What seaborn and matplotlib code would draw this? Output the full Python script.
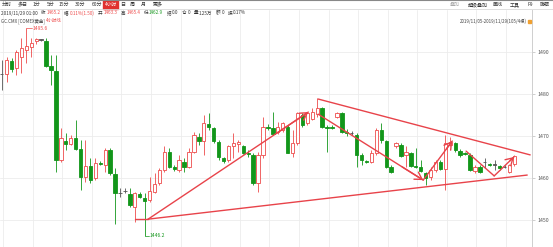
import numpy as np
import pandas as pd
import matplotlib
matplotlib.use("Agg")
import matplotlib.pyplot as plt
import seaborn as sns

# ---------------- data (4-hour candles, GC.CMX, 2019/11/05 - 2019/11/29) ----------------
opens = [1484.7, 1484.7, 1487.9, 1486.1, 1488.9, 1490.5, 1491.3, 1492.5, 1493.0, 1492.5,
         1486.7, 1485.5, 1464.3, 1468.8, 1468.0, 1469.5, 1466.9, 1460.3, 1462.9, 1459.9,
         1463.6, 1463.1, 1466.7, 1461.0, 1456.5, 1456.9, 1456.2, 1453.2, 1456.2, 1455.3,
         1454.8, 1456.7, 1458.7, 1461.9, 1466.3, 1462.5, 1461.9, 1463.9, 1462.5, 1466.3,
         1469.8, 1468.9, 1472.8, 1471.8, 1468.6, 1464.7, 1464.3, 1467.6, 1468.1, 1467.6,
         1466.0, 1465.5, 1458.7, 1465.5, 1472.2, 1471.8, 1471.0, 1471.4, 1472.2, 1466.0,
         1468.3, 1475.0, 1473.0, 1474.0, 1475.2, 1476.6, 1472.2, 1472.2, 1474.6, 1475.4,
         1471.0, 1470.7, 1470.2, 1465.5, 1464.0, 1463.9, 1465.9, 1471.4, 1468.8, 1462.5,
         1467.6, 1467.9, 1465.5, 1465.9, 1462.9, 1462.7, 1461.1, 1460.2, 1461.9, 1463.9,
         1462.1, 1467.9, 1468.3, 1466.5, 1466.0, 1465.5, 1461.7, 1462.7, 1463.9, 1463.3,
         1463.3, 1462.9, 1462.7, 1461.5, 1463.3]
highs = [1488.1, 1488.7, 1488.5, 1490.5, 1493.3, 1495.6, 1493.3, 1493.4, 1493.2, 1493.3,
         1489.3, 1489.3, 1471.8, 1470.6, 1470.3, 1473.8, 1469.0, 1469.0, 1464.7, 1464.7,
         1464.0, 1467.1, 1467.1, 1462.3, 1457.5, 1457.5, 1457.5, 1456.7, 1456.7, 1456.4,
         1460.3, 1461.1, 1462.3, 1467.5, 1467.1, 1463.1, 1465.5, 1464.7, 1467.1, 1471.0,
         1470.6, 1475.0, 1475.4, 1472.2, 1469.0, 1465.1, 1467.9, 1470.6, 1469.0, 1467.9,
         1466.6, 1465.9, 1466.3, 1474.6, 1472.9, 1475.8, 1473.4, 1473.4, 1472.6, 1471.4,
         1475.8, 1475.4, 1475.8, 1476.6, 1479.0, 1477.0, 1472.6, 1472.5, 1475.8, 1475.8,
         1471.6, 1471.2, 1470.6, 1465.9, 1464.4, 1466.7, 1471.8, 1473.0, 1469.0, 1463.1,
         1468.6, 1468.3, 1467.5, 1466.3, 1467.1, 1464.3, 1461.5, 1462.7, 1464.3, 1464.3,
         1470.2, 1469.8, 1468.6, 1466.9, 1466.3, 1465.9, 1463.1, 1463.1, 1464.7, 1463.6,
         1464.3, 1463.1, 1463.0, 1463.3, 1465.4]
lows = [1481.0, 1482.9, 1485.3, 1484.5, 1484.9, 1487.3, 1488.9, 1491.8, 1492.5, 1486.5,
        1482.1, 1461.5, 1463.9, 1466.7, 1467.8, 1466.7, 1457.1, 1459.1, 1458.7, 1459.5,
        1463.0, 1461.5, 1460.7, 1449.0, 1455.5, 1456.5, 1453.2, 1449.6, 1455.2, 1446.2,
        1454.4, 1456.4, 1458.3, 1461.5, 1462.3, 1461.7, 1461.5, 1461.5, 1462.3, 1465.9,
        1467.9, 1465.5, 1471.4, 1468.3, 1464.3, 1463.5, 1463.9, 1464.7, 1466.3, 1465.7,
        1465.0, 1458.3, 1456.7, 1464.7, 1471.5, 1470.2, 1470.4, 1471.0, 1465.9, 1465.1,
        1467.9, 1472.2, 1472.6, 1473.7, 1474.6, 1471.8, 1466.3, 1471.7, 1474.2, 1470.6,
        1470.0, 1470.2, 1462.7, 1463.1, 1463.5, 1463.5, 1465.5, 1468.3, 1462.3, 1461.1,
        1467.1, 1464.9, 1462.7, 1462.7, 1462.3, 1461.5, 1458.3, 1459.5, 1461.5, 1461.9,
        1457.1, 1467.5, 1466.3, 1465.1, 1465.4, 1461.7, 1461.1, 1461.3, 1462.3, 1462.9,
        1461.9, 1461.9, 1462.3, 1461.3, 1462.9]
closes = [1484.8, 1488.1, 1485.9, 1490.1, 1490.9, 1491.5, 1492.1, 1493.1, 1492.9, 1486.7,
          1485.7, 1464.3, 1469.5, 1468.0, 1469.5, 1466.9, 1460.3, 1462.9, 1459.5, 1463.5,
          1463.3, 1466.7, 1461.1, 1456.5, 1456.4, 1457.0, 1453.6, 1456.4, 1455.4, 1454.5,
          1457.0, 1458.5, 1461.9, 1466.3, 1462.7, 1462.1, 1464.3, 1462.5, 1466.3, 1470.2,
          1468.8, 1473.0, 1472.2, 1468.8, 1464.9, 1464.1, 1467.5, 1468.4, 1468.6, 1466.0,
          1465.6, 1458.7, 1465.5, 1472.2, 1472.0, 1470.5, 1472.2, 1473.0, 1466.0, 1468.3,
          1475.4, 1472.6, 1475.4, 1475.8, 1476.6, 1472.1, 1472.0, 1472.0, 1475.4, 1471.0,
          1470.6, 1470.6, 1465.5, 1464.3, 1463.8, 1465.9, 1471.4, 1469.0, 1462.7, 1461.5,
          1468.3, 1465.2, 1466.3, 1462.9, 1462.5, 1461.7, 1459.9, 1461.9, 1463.9, 1462.1,
          1468.3, 1468.6, 1466.7, 1465.5, 1465.7, 1461.9, 1462.7, 1461.5, 1463.8, 1463.1,
          1463.2, 1462.3, 1462.6, 1463.1, 1465.2]

price_ticks = [1450, 1460, 1470, 1480, 1490]
high_label = "1495.6"
low_label = "1446.2"

# hand-drawn trend lines (candle index, price)
seg_x = [[27.1, 29.7], [29.7, 106.6], [29.7, 62.2], [64.2, 107.2],
         [64.2, 85.5], [85.5, 91.4], [94.2, 99.9], [99.9, 103.9]]
seg_y = [[1450.2, 1450.2], [1450.2, 1460.7], [1450.2, 1475.7], [1478.8, 1465.5],
         [1475.2, 1459.5], [1459.5, 1468.8], [1466.4, 1460.5], [1460.5, 1465.0]]
seg_arrow = [False, False, True, False, True, True, False, True]

# header texts
tabs = ["分时", "多日", "1分", "5分", "15分", "30分", "60分", "4小时", "日", "周", "月", "更多"]
tools = ["叠加", "超级叠加", "画线", "工具", "F9", "隐藏"]
quote_date = "2019/11/29 01:00"
quote_labels = ["收", "幅", "开", "高", "低", "结", "仓", "量", "额", "振"]
quote_values = ["1465.2", "0.11%(1.50)", "1463.3", "1465.4", "1462.9", "0.0", "0", "1.25万", "0", "0.17%"]
symbol_text = "GC.CMX [COMEX黄金]"
period_text = "4小时线"
range_text = "2019/11/05-2019/11/29(105/4根)"

# ---------------- style ----------------
sns.set_style("white")
plt.rcParams['font.family'] = ['Noto Sans CJK SC', 'DejaVu Sans']

UP = "#ee4b4b"
DOWN = "#12961a"
DOJI = "#555555"
LINE = "#e8434a"
GRID = "#ececec"
TXT = "#333333"

W, H = 553, 247
fig = plt.figure(figsize=(W / 100, H / 100), dpi=100)
fig.patch.set_facecolor("white")
renderer = fig.canvas.get_renderer()

ax_top_px = 10
ax = fig.add_axes([0, 0, 532 / W, (H - ax_top_px) / H])
ax.set_xlim(-0.34, 107.57)
ax.set_ylim(1443.57, 1500.0)

df = pd.DataFrame({"i": np.arange(len(opens)), "open": opens, "high": highs,
                   "low": lows, "close": closes})
df["kind"] = np.where((df["close"] - df["open"]).abs() < 0.15, "doji",
                      np.where(df["close"] >= df["open"], "up", "down"))
colmap = {"up": UP, "down": DOWN, "doji": DOJI}

# grid
for gx in np.arange(0, 108, 6) + 0.3:
    ax.axvline(gx, color=GRID, lw=0.6, zorder=0)
for t in price_ticks:
    ax.axhline(t, color=GRID, lw=0.6, zorder=0)

# wicks
ax.vlines(df["i"], df["low"], df["high"], colors=[colmap[k] for k in df["kind"]],
          lw=0.6, zorder=2)
# bodies
bw = 0.68
for kind, face in (("up", "white"), ("down", DOWN), ("doji", DOJI)):
    d = df[df["kind"] == kind]
    bottom = np.minimum(d["open"], d["close"])
    height = np.maximum((d["close"] - d["open"]).abs(), 0.12)
    ax.bar(d["i"], height, bottom=bottom, width=bw, color=face,
           edgecolor=colmap[kind], linewidth=0.6, zorder=3)

# trend lines through seaborn
rows = []
for s, (xs, ys) in enumerate(zip(seg_x, seg_y)):
    for xx, yy in zip(xs, ys):
        rows.append({"seg": s, "x": xx, "y": yy})
lines_df = pd.DataFrame(rows)
sns.lineplot(data=lines_df, x="x", y="y", units="seg", estimator=None, sort=False,
             color=LINE, lw=1.0, ax=ax, zorder=5, legend=False)
for xs, ys, arr in zip(seg_x, seg_y, seg_arrow):
    if arr:
        fx = xs[0] + (xs[1] - xs[0]) * 0.8
        fy = ys[0] + (ys[1] - ys[0]) * 0.8
        ax.annotate("", xy=(xs[1], ys[1]), xytext=(fx, fy),
                    arrowprops=dict(arrowstyle="->,head_length=0.5,head_width=0.3",
                                    color=LINE, lw=1.0, shrinkA=0, shrinkB=0),
                    zorder=6)

# high / low markers
hi_i = int(np.argmax(highs))
lo_i = int(np.argmin(lows))
ax.plot([hi_i, hi_i + 1.2], [highs[hi_i], highs[hi_i]], color=UP, lw=0.5, zorder=4)
ax.text(hi_i + 1.3, highs[hi_i], high_label, color=UP, fontsize=3.6,
        va="center", ha="left")
ax.plot([lo_i, lo_i + 0.9], [lows[lo_i], lows[lo_i]], color=DOWN, lw=0.5, zorder=4)
ax.text(lo_i + 1.0, lows[lo_i], low_label, color=DOWN, fontsize=3.6,
        va="center", ha="left")

# right price axis
for s in ["top", "left", "bottom"]:
    ax.spines[s].set_visible(False)
ax.spines["right"].set_color("#cfcfcf")
ax.spines["right"].set_linewidth(0.7)
ax.set_xticks([])
ax.yaxis.tick_right()
ax.set_yticks(price_ticks)
ax.set_yticklabels([str(t) for t in price_ticks])
ax.tick_params(axis="y", length=2, width=0.5, color="#bbbbbb", pad=2,
               labelsize=3.8, labelcolor="#555555")
ax.set_ylabel("")
ax.set_xlabel("")


def P(x, y):
    return x / W, 1 - y / H


def put(x, y, s, color=TXT, size=3.4, ha="left"):
    return fig.text(*P(x, y), s, color=color, fontsize=size, va="center", ha=ha)


def width_px(t):
    return t.get_window_extent(renderer=renderer).width


# header row 1: period tabs
tab_x = [2, 18, 33, 47, 59, 75, 92, 105, 120, 130, 141, 153]
for t, x in zip(tabs, tab_x):
    if t == "4小时":
        fig.patches.append(plt.Rectangle(P(103, 9), 15 / W, 9 / H, transform=fig.transFigure,
                                         color="#e0312f", zorder=1))
        put(x, 4.5, t, color="white", size=3.4)
    else:
        put(x, 4.5, t, size=3.6)

tool_x = [450, 468, 493, 510, 528, 540]
for t, x in zip(tools, tool_x):
    put(x, 4.5, t, color="#aaaaaa" if t == "叠加" else TXT, size=3.6)

fig.add_artist(plt.Line2D([0, 1], [1 - 9.5 / H, 1 - 9.5 / H], color="#d9d9d9", lw=0.6,
                          transform=fig.transFigure))
fig.add_artist(plt.Line2D([0, 1], [1 - 0.5 / H, 1 - 0.5 / H], color="#888888", lw=0.8,
                          transform=fig.transFigure))

# header row 2: quote line, laid out one after another
value_col = [UP, UP, UP, UP, DOWN, TXT, TXT, TXT, TXT, TXT]
cur = 1
td = put(cur, 13, quote_date, size=3.3)
cur += width_px(td) + 3.5
for lab, val, c in zip(quote_labels, quote_values, value_col):
    tl = put(cur, 13, lab, size=3.3)
    cur += width_px(tl) + 0.8
    tv = put(cur, 13, val, color=c, size=3.3)
    cur += width_px(tv) + 3.5

# header row 3
ts = put(1, 21, symbol_text, color="#444444", size=3.2)
put(1 + width_px(ts) + 1.5, 21, period_text, color=UP, size=3.2)
put(527, 21, range_text, color="#444444", size=3.2, ha="right")
fig.patches.append(plt.Rectangle(P(528, 23), 3 / W, 3 / H, transform=fig.transFigure,
                                 color="#f0a030", zorder=1))

fig.savefig("out.png", dpi=100, facecolor="white")
